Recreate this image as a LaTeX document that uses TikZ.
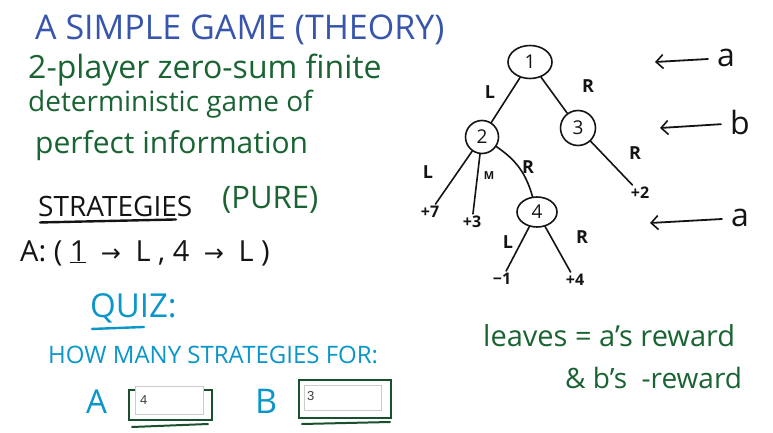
\documentclass[tikz,border=0pt]{standalone}
\usepackage{fontspec}
\setmainfont{Open Sans}
\newfontfamily\boxfont{Liberation Sans}
\newfontfamily\symfont{DejaVu Sans}
\usetikzlibrary{arrows.meta,shapes.geometric}
\definecolor{tblue}{RGB}{55,85,170}
\definecolor{hgreen}{RGB}{25,100,50}
\definecolor{qcyan}{RGB}{10,150,200}
\definecolor{bgreen}{RGB}{25,80,45}
\definecolor{ink}{RGB}{20,20,20}
\newcommand{\fs}[1]{\fontsize{#1}{#1}\selectfont}
\newcommand{\myarr}{\enspace{\symfont\fs{24}→}\enspace}
\begin{document}
\begin{tikzpicture}[x=1pt,y=-1pt,
  txt/.style={anchor=west,inner sep=0pt},
  state/.style={draw=ink,line width=1.6pt,circle,minimum size=33pt,inner sep=0pt,text=ink,font=\fs{19}},
  stateel/.style={draw=ink,line width=1.6pt,ellipse,minimum width=44pt,minimum height=33pt,inner sep=0pt,text=ink,font=\fs{19}},
  leaf/.style={inner sep=2pt,text=ink,font=\fs{16}\bfseries},
  lbl/.style={inner sep=0pt,text=ink,font=\fs{18}\bfseries},
  edge/.style={draw=ink,line width=1.6pt,line cap=round},
  arr/.style={draw=ink,line width=1.8pt,line cap=round,shorten <=9pt,-{Straight Barb[length=7pt,width=14pt,line width=1.6pt]}},
  player/.style={inner sep=0pt,text=ink,font=\fs{32}},
  inbox/.style={draw=gray!40,fill=white,line width=0.8pt,anchor=north west,inner sep=0pt},
  outbox/.style={draw=bgreen,line width=2.2pt}
]
\useasboundingbox[fill=white] (0,0) rectangle (773,433);

% left texts
\node[txt,tblue,font=\fs{34}] (title) at (35,30) {A SIMPLE GAME (THEORY)};
\node[txt,hgreen,font=\fs{32}] (t1) at (28,70) {2-player zero-sum finite};
\node[txt,hgreen,font=\fs{28}] (t2) at (28,104) {deterministic game of};
\node[txt,hgreen,font=\fs{30}] (t3) at (35,146) {perfect information};
\node[txt,ink,font=\fs{28}] (strat) at (38,206) {STRATEGIES};
\draw[ink,line width=2.4pt,line cap=round] (strat.south west) ++(2,6) coordinate (su1) -- ++(136,-3) coordinate (su2);
\node[txt,hgreen,font=\fs{31}] (pure) at (222,200) {(PURE)};
\node[txt,ink,font=\fs{29}] (astrat) at (20,253) {A:\ (\ \underline{1}\myarr L\ ,\ 4\myarr L\ )};
\node[txt,qcyan,font=\fs{33}] (quiz) at (90,308) {QUIZ:};
\draw[qcyan,line width=2.4pt,line cap=round] (quiz.south west) ++(2,6) coordinate (qu1) -- ++(52,-2) coordinate (qu2);
\node[txt,qcyan,font=\fs{24}] (how) at (48,355) {HOW MANY STRATEGIES FOR:};
\node[txt,qcyan,font=\fs{33}] (qa) at (86,402) {A};
\node[txt,qcyan,font=\fs{34}] (qb) at (255,401) {B};

% answer boxes
\draw[outbox] (129,390) rectangle (212,420);
\draw[bgreen,line width=2pt,line cap=round] (132,427) -- (208,424);
\node[inbox,minimum width=68pt,minimum height=28pt] (ia) at (135,386) {};
\node[anchor=west,inner sep=0pt,text=black!75,font=\boxfont\fs{13}] (va) at (140,400) {4};
\draw[outbox] (299,380) rectangle (391,418);
\draw[bgreen,line width=2pt,line cap=round] (302,424) -- (390,422);
\node[inbox,minimum width=77pt,minimum height=25pt] (ib) at (304,385) {};
\node[anchor=west,inner sep=0pt,text=black!75,font=\boxfont\fs{13}] (vb) at (307,396) {3};

% tree
\node[stateel] (n1) at (530,62) {1};
\node[state] (n2) at (482,137) {2};
\node[state,minimum size=35pt] (n3) at (578,128) {3};
\node[stateel,minimum width=40pt,minimum height=30pt] (n4) at (537,212) {4};
\node[leaf] (l7) at (430,212) {+7};
\node[leaf] (l3) at (472,222) {+3};
\node[leaf] (l2) at (640,193) {+2};
\node[leaf] (lm1) at (502,279) {−1};
\node[leaf] (l4) at (575,280) {+4};

\draw[edge] (n1) -- (n2);
\draw[edge] (n1) -- (n3);
\draw[edge] (n2) -- (l7);
\draw[edge] (n2) -- (l3);
\draw[edge] (n2) to[bend left=20] (n4);
\draw[edge] (n3) -- (l2);
\draw[edge] (n4) -- (lm1);
\draw[edge] (n4) -- (l4);

\node[lbl] (e12) at (490,92) {L};
\node[lbl] (e13) at (588,86) {R};
\node[lbl] (e27) at (428,172) {L};
\node[lbl,font=\fs{11}\bfseries] (e2m) at (489,176) {M};
\node[lbl] (e24) at (528,167) {R};
\node[lbl] (e32) at (635,153) {R};
\node[lbl] (e41) at (508,242) {L};
\node[lbl] (e44) at (582,237) {R};

% player arrows
\node[player] (pa1) at (726,58) {a};
\coordinate (ta1) at (655,62);
\draw[arr] (pa1) -- (ta1);
\node[player] (pb) at (740,123) {b};
\coordinate (tb) at (660,128);
\draw[arr] (pb) -- (tb);
\node[player] (pa2) at (740,218) {a};
\coordinate (ta2) at (650,223);
\draw[arr] (pa2) -- (ta2);

% legend
\node[txt,hgreen,font=\fs{29}] (lv1) at (483,336) {leaves = a’s reward};
\node[txt,hgreen,font=\fs{28}] (lv2) at (565,378) {\&\ b’s \ -reward};
\end{tikzpicture}
\end{document}
